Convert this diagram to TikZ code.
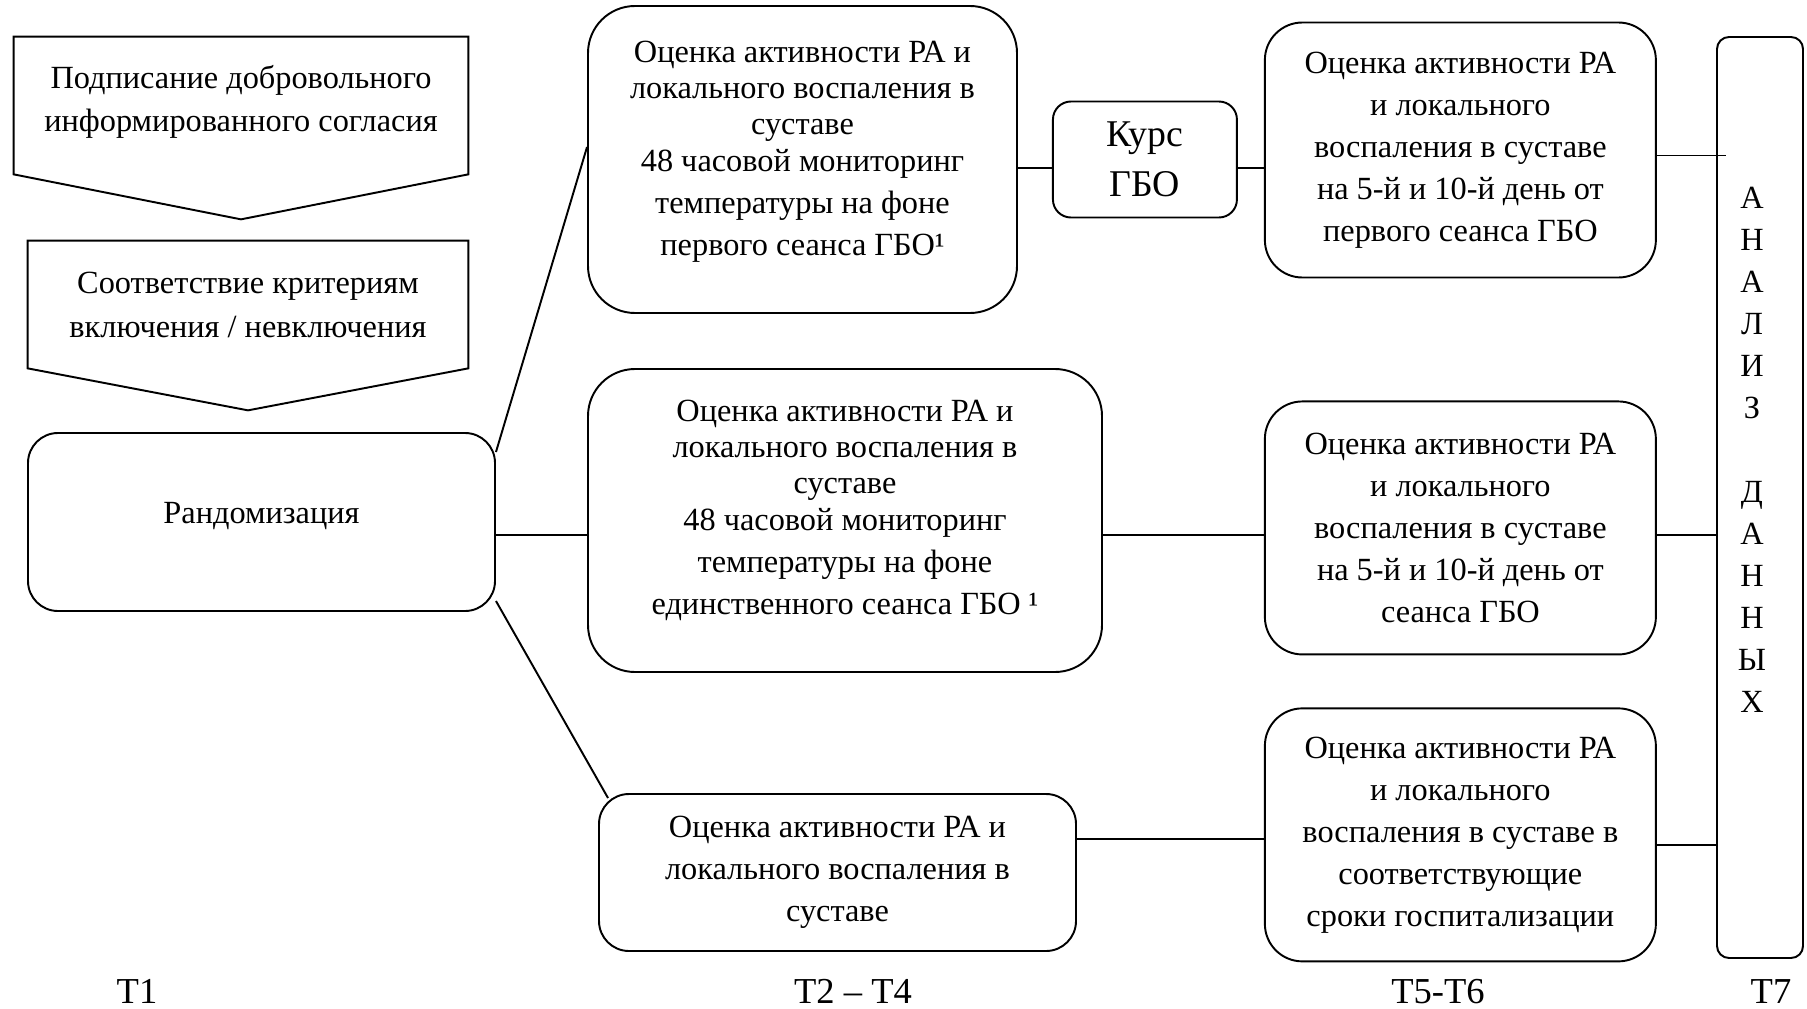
\documentclass[tikz,border=0pt]{standalone}
\usepackage{fontspec}
\setmainfont{Liberation Serif}
\usetikzlibrary{positioning}

\newcommand{\lowstrut}[1]{\rule[-#1]{0pt}{#1}}

\begin{document}
\begin{tikzpicture}[
    font=\fontsize{18.4}{23.9}\selectfont,
    stage/.style={
        rectangle,
        align=center,
        inner sep=0pt
    },
    block/.style={
        rectangle,
        draw,
        align=center,
        inner sep=0pt,
        rounded corners=0.75cm,
        line width=1.1pt
    },
    line/.style={
        draw,
        line width=1.1pt
    },
    tlabel/.style={
        anchor=base,
        inner sep=0pt,
        font=\fontsize{20.8}{24}\selectfont
    }
]
    \useasboundingbox (0,0) rectangle (36.14,-20.18);

    % Screening
    \node [stage, minimum width=9.08cm, minimum height=2.74cm, font=\fontsize{18.4}{24.5}\selectfont] (consent) at (4.82,-2.11) {Подписание добровольного\\информированного согласия\lowstrut{0.3cm}};
    \node [stage, minimum width=8.8cm, minimum height=2.54cm, font=\fontsize{18.4}{25}\selectfont] (criteria) at (4.96,-6.09) {Соответствие критериям\\включения / невключения};
    \path [line] (consent.north west) -- (consent.north east) -- (consent.south east) -- ([yshift=-0.9cm]consent.south) -- (consent.south west) -- cycle;
    \path [line] (criteria.north west) -- (criteria.north east) -- (criteria.south east) -- ([yshift=-0.84cm]criteria.south) -- (criteria.south west) -- cycle;
    \node [block, rounded corners=0.6cm, minimum width=9.34cm, minimum height=3.56cm] (rand) at (5.23,-10.44) {Рандомизация\lowstrut{0.36cm}};

    % Groups T2 - T4
    \node [block, rounded corners=0.94cm, minimum width=8.58cm, minimum height=6.14cm, font=\fontsize{18.4}{20.6}\selectfont] (assessA) at (16.05,-3.19) {Оценка активности РА и\\локального воспаления в\\суставе\\48 часовой мониторинг\\[3.3pt]температуры на фоне\\[3.3pt]первого сеанса ГБО¹\lowstrut{0.46cm}};
    \node [block, rounded corners=0.36cm, minimum width=3.68cm, minimum height=2.32cm, font=\fontsize{21.5}{28.5}\selectfont, right=0.68cm of assessA] (kurs) {Курс\\ГБО};
    \node [block, rounded corners=0.94cm, minimum width=10.28cm, minimum height=6.06cm, font=\fontsize{18.4}{20.6}\selectfont] (assessE) at (16.9,-10.41) {Оценка активности РА и\\локального воспаления в\\суставе\\48 часовой мониторинг\\[3.3pt]температуры на фоне\\[3.3pt]единственного сеанса ГБО ¹\lowstrut{0.54cm}};
    \node [block, rounded corners=0.6cm, minimum width=9.54cm, minimum height=3.14cm] (assessF) at (16.75,-17.45) {Оценка активности РА и\\локального воспаления в\\суставе};

    % Follow-up T5 - T6
    \node [block, minimum width=7.82cm, minimum height=5.1cm, right=0.52cm of kurs, yshift=0.19cm] (follow1) {Оценка активности РА\\и локального\\воспаления в суставе\\на 5-й и 10-й день от\\первого сеанса ГБО};
    \node [block, minimum width=7.82cm, minimum height=5.06cm, below=2.44cm of follow1] (follow2) {Оценка активности РА\\и локального\\воспаления в суставе\\на 5-й и 10-й день от\\сеанса ГБО};
    \node [block, minimum width=7.82cm, minimum height=5.06cm, below=1.04cm of follow2] (follow3) {Оценка активности РА\\и локального\\воспаления в суставе в\\соответствующие\\сроки госпитализации};

    % Analysis T7
    \node [block, rounded corners=0.24cm, minimum width=1.72cm, minimum height=18.42cm] (analysis) at (35.2,-9.95) {};
    \node [stage, anchor=north] (analysistext) at (35.04,-3.74) {А\\Н\\А\\Л\\И\\З\\[23.9pt]Д\\А\\Н\\Н\\Ы\\Х};

    % Links
    \coordinate (top) at ([yshift=-0.17cm]kurs.west);
    \coordinate (mid) at ([yshift=-0.29cm]assessE.west);
    \coordinate (low) at ([yshift=-0.09cm]follow3.west);
    \coordinate (res1) at ([yshift=-0.11cm]follow1.east);
    \coordinate (res3) at ([yshift=-0.2cm]follow3.east);
    \path [line] ([yshift=1.4cm]rand.east) -- ([yshift=0.25cm]assessA.west);
    \path [line] ([yshift=-1.58cm]rand.east) -- ([xshift=0.2cm,yshift=-0.1cm]assessF.north west);
    \path [line] (rand.east |- mid) -- (mid);
    \path [line] (assessA.east |- top) -- (top);
    \path [line] (kurs.east |- top) -- (follow1.west |- top);
    \path [line] (assessE.east |- mid) -- (follow2.west |- mid);
    \path [line] (assessF.east |- low) -- (low);
    \path [line] (res1) -- (analysis.west |- res1) -- ++(0.2,0);
    \path [line] (follow2.east |- mid) -- (analysis.west |- mid);
    \path [line] (res3) -- (analysis.west |- res3);

    % Time points
    \node [tlabel] (t1) at (2.74,-20.06) {T1};
    \node [tlabel] (t24) at (17.06,-20.06) {T2 – T4};
    \node [tlabel] (t56) at (28.76,-20.06) {T5-T6};
    \node [tlabel] (t7) at (35.42,-20.06) {T7};
\end{tikzpicture}
\end{document}
